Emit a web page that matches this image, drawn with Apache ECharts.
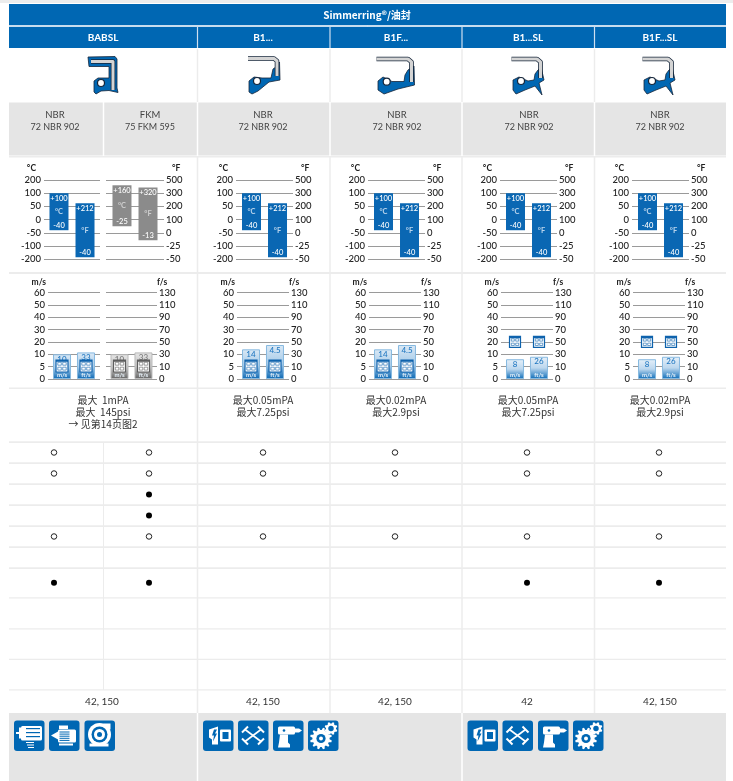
<!DOCTYPE html>
<html><head><meta charset="utf-8">
<style>html,body{margin:0;padding:0;background:#fff}#c{width:733px;height:781px}</style>
<script src="https://cdn.jsdelivr.net/npm/echarts@6/dist/echarts.min.js"></script>
</head><body><div id="c"></div>
<script>
// ---------- data ----------
const groupTitle = 'Simmerring®/油封';
const profiles = ['BABSL','B1...','B1F...','B1...SL','B1F...SL'];
const materials = ['NBR','FKM','NBR','NBR','NBR','NBR'];
const grades = ['72 NBR 902','75 FKM 595','72 NBR 902','72 NBR 902','72 NBR 902','72 NBR 902'];

const tempCTicks = [-200,-100,-50,0,50,100,200];
const tempFTicks = [-50,-25,0,100,200,300,500];
const tempCHigh = [100,160,100,100,100,100];
const tempCLow  = [-40,-25,-40,-40,-40,-40];
const tempFHigh = [225,385,225,225,225,225];   // bar tops as drawn on the axis
const tempFLow  = [-46,-14,-46,-46,-46,-46];   // bar bottoms as drawn on the axis
const tempFHighText = ['+212','+320','+212','+212','+212','+212'];
const tempFLowText  = ['-40','-13','-40','-40','-40','-40'];

const speedMTicks = [0,5,10,20,30,40,50,60];
const speedFTicks = [0,10,30,50,70,90,110,130];
const speedM = [10,10,14,14,8,8];
const speedF = [33,33,45,45,26,26];
const speedMText = ['10','10','14','14','8','8'];
const speedFText = ['33','33','4.5','4.5','26','26'];
const speedIconAtTwenty = [false,false,false,false,true,true];

const pressure = [
  ['最大  1mPA','最大  145psi','→ 见第14页图2'],
  ['最大0.05mPA','最大7.25psi'],
  ['最大0.02mPA','最大2.9psi'],
  ['最大0.05mPA','最大7.25psi'],
  ['最大0.02mPA','最大2.9psi']
];
const rowCount = 7;
// 'o' hollow, 'x' filled, per row and material column
const markRows = [
  ['o','o','o','o','o','o'],
  ['o','o','o','o','o','o'],
  ['','x','','','',''],
  ['','x','','','',''],
  ['o','o','o','o','o','o'],
  ['','','','','',''],
  ['x','x','','','x','x']
];
const references = ['42, 150','42, 150','42, 150','42','42, 150'];

// ---------- layout & style ----------
const BLUE='#0067b3', PALE='#ececec', GREYBOX='#e5e5e5';
const FONT='Lato, "Noto Sans CJK SC", sans-serif';
const CJK='"Noto Sans CJK SC", Lato, sans-serif';
const tempGrids = [[44,56],[106,58],[236,57],[368,57],[500,57],[632,57]];
const speedGrids = [[48,52],[106,51],[237,52],[369,52],[501,52],[633,52]];
const axisVisible = [[true,false],[false,true],[true,true],[true,true],[true,true],[true,true]];
const colCentres = [54,149,263,395,527,659];
const rowCentres = [0.5,1.5,2.5,3.5,4.5,5.5,6.7];
const profileCentres = [103,263,396,528,660];
const colEdges = [197.5,330,462,594.5];
const rowLines = [442,463,484,505,526,547,568,598,629,659.5,690];

function pos(v,t){
  for(let i=0;i<t.length-1;i++) if(v<=t[i+1]) return i+(v-t[i])/(t[i+1]-t[i]);
  return t.length-1;
}
const grid=[],xAxis=[],yAxis=[],series=[],gfx=[];

// ---------- mini charts ----------
function addChart(g,ticksL,ticksR,nameL,nameR,top,bottom,vis,gapName){
  const gi=grid.length;
  grid.push({left:g[0],width:g[1],top:top,height:bottom-top});
  xAxis.push({gridIndex:gi,type:'category',data:['range'],show:false});
  const n=ticksL.length-1;
  const lab={color:'#222',fontFamily:FONT,fontSize:9.5,fontWeight:500};
  yAxis.push({gridIndex:gi,type:'value',min:0,max:n,interval:1,position:'left',
    name:vis[0]?nameL:'',nameLocation:'end',nameGap:gapName[0],
    nameTextStyle:{color:'#222',fontFamily:FONT,fontSize:8.5,fontWeight:700,align:'right',padding:[0,gapName[1],0,0]},
    axisLine:{show:false},axisTick:{show:false},
    axisLabel:{show:vis[0],margin:3,formatter:v=>ticksL[v],...lab},
    splitLine:{show:true,lineStyle:{color:'#9a9a9a',width:1}}});
  yAxis.push({gridIndex:gi,type:'value',min:0,max:n,interval:1,position:'right',
    name:vis[1]?nameR:'',nameLocation:'end',nameGap:gapName[0],
    nameTextStyle:{color:'#222',fontFamily:FONT,fontSize:8.5,fontWeight:700,align:'left',padding:[0,0,0,gapName[2]]},
    axisLine:{show:false},axisTick:{show:false},
    axisLabel:{show:vis[1],margin:2,formatter:v=>ticksR[v],...lab},
    splitLine:{show:false}});
  return {x:gi,y:yAxis.length-2};
}
const idx=(a,i)=>({xAxisIndex:a.x,yAxisIndex:a.y});

tempGrids.forEach((g,i)=>{
  const a=addChart(g,tempCTicks,tempFTicks,'°C','°F',180,259.3,axisVisible[i],[7,8,8]);
  const grey=i===1, col=grey?'#8b8b8b':'#0a67b3';
  const cLo=pos(tempCLow[i],tempCTicks),cHi=pos(tempCHigh[i],tempCTicks);
  const fLo=pos(tempFLow[i],tempFTicks),fHi=pos(tempFHigh[i],tempFTicks);
  const bar={type:'bar',barWidth:19,barGap:'37%',silent:true,...idx(a)};
  const solid={color:col,borderColor:grey?'#c9c9c9':'#7fb2dc',borderWidth:0};
  series.push({...bar,stack:'c'+i,data:[cLo],itemStyle:{color:'transparent'}});
  series.push({...bar,stack:'c'+i,data:[cHi-cLo],itemStyle:solid});
  series.push({...bar,stack:'f'+i,data:[fLo],itemStyle:{color:'transparent'}});
  series.push({...bar,stack:'f'+i,data:[fHi-fLo],itemStyle:solid});
  const marks=[[cHi,cLo,'+'+tempCHigh[i],'°C',String(tempCLow[i]),-13],
               [fHi,fLo,tempFHighText[i],'°F',tempFLowText[i],13]];
  series.push({type:'custom',...idx(a),silent:true,z:5,data:marks.map((m,k)=>[k,m[0],m[1]]),
    renderItem(p,api){
      const m=marks[p.dataIndex];
      const cx=api.coord([0,m[0]])[0]+m[5];
      const top=api.coord([0,m[0]])[1],bot=api.coord([0,m[1]])[1];
      const t=(y,s,f,w)=>({type:'text',style:{x:cx,y:y,text:s,fill:f,align:'center',verticalAlign:'middle',font:`${w} 7.5px ${FONT}`}});
      return {type:'group',children:[
        t(top+5,m[2],'#fff',500),
        t((top+bot)/2,m[3],grey?'#cfcfcf':'#b9d4ec',700),
        t(bot-5,m[4],'#fff',500)]};
    }});
});

function gridIcon(cx,cy,grey,s){
  const c=grey?'#5e5e5e':'#0f63ad';
  const ch=[{type:'rect',shape:{x:cx-s/2,y:cy-s/2,width:s,height:s},style:{fill:'#fff',stroke:c,lineWidth:1.2}}];
  const q=(s-5)/2;
  [[-1,-1],[1,-1],[-1,1],[1,1]].forEach(d=>{
    ch.push({type:'rect',shape:{x:cx+(d[0]<0?-q-0.7:0.7),y:cy+(d[1]<0?-q-0.2:1.2),width:q,height:q-0.6},
      style:{fill:'#fff',stroke:c,lineWidth:0.6}});
  });
  ch.push({type:'rect',shape:{x:cx-s/2,y:cy-s/2,width:s,height:1.8},style:{fill:c}});
  return ch;
}
speedGrids.forEach((g,i)=>{
  const a=addChart(g,speedMTicks,speedFTicks,'m/s','f/s',292.5,379,axisVisible[i],[6,2,0]);
  const grey=i===1;
  const grad=i>=4
    ?[[0,'#e6f0f9'],[0.5,'#bcd7ee'],[1,'#0d6cb8']]
    :[[0,'#dbe9f5'],[0.55,'#a6cbe9'],[1,'#0a67b3']];
  const ggrad=[[0,'#e6e6e6'],[0.55,'#c4c4c4'],[1,'#636363']];
  const style={color:{type:'linear',x:0,y:0,x2:0,y2:1,colorStops:(grey?ggrad:grad).map(s=>({offset:s[0],color:s[1]}))},
    borderColor:grey?'#b9b9b9':'#86b9e0',borderWidth:1};
  const mv=pos(speedM[i],speedMTicks),fv=pos(speedF[i],speedFTicks);
  const bar={type:'bar',barWidth:18,barGap:'33%',silent:true,itemStyle:style,...idx(a)};
  series.push({...bar,data:[mv]},{...bar,data:[fv]});
  const marks=[[mv,speedMText[i],'m/s',-12],[fv,speedFText[i],'ft/s',12]];
  series.push({type:'custom',...idx(a),silent:true,z:5,data:marks.map((m,k)=>[k,m[0]]),
    renderItem(p,api){
      const m=marks[p.dataIndex];
      const c=api.coord([0,m[0]]),base=api.coord([0,0])[1];
      const cx=c[0]+m[3];
      const t=(y,s,f,w,z)=>({type:'text',style:{x:cx,y:y,text:s,fill:f,align:'center',verticalAlign:'middle',font:`${w} ${z}px ${FONT}`}});
      const iy=speedIconAtTwenty[i]?api.coord([0,3])[1]:base-13;
      return {type:'group',children:[
        t(c[1]+5,m[1],grey?'#777':'#1e76c0',500,8),
        ...gridIcon(cx,iy,grey,speedIconAtTwenty[i]?11:12),
        t(base-3.8,m[2],'#e8f2fa',700,6)]};
    }});
});

// ---------- marks table: one chart per material column ----------
colCentres.forEach((c,col)=>{
  const gi=grid.length;
  grid.push({left:c-10,width:20,top:442,height:156});
  xAxis.push({gridIndex:gi,type:'category',data:['col'],show:false});
  yAxis.push({gridIndex:gi,type:'value',min:0,max:rowCount+0.43,inverse:true,show:false});
  const pts=k=>markRows.map((r,i)=>r[col]===k?[0,rowCentres[i]]:null).filter(Boolean);
  series.push({type:'scatter',xAxisIndex:gi,yAxisIndex:yAxis.length-1,silent:true,symbolSize:5.5,data:pts('o'),
    itemStyle:{color:'#fff',borderColor:'#222',borderWidth:1,opacity:1}});
  series.push({type:'scatter',xAxisIndex:gi,yAxisIndex:yAxis.length-1,silent:true,symbolSize:6,data:pts('x'),
    itemStyle:{color:'#000',opacity:1}});
});

// ---------- table furniture ----------
const Z=-10;
const rect=(x,y,w,h,fill,r)=>gfx.push({type:'rect',z:Z,silent:true,shape:{x,y,width:w,height:h,r:r||0},style:{fill}});
const line=(x1,y1,x2,y2,c,w)=>gfx.push({type:'line',z:Z,silent:true,shape:{x1,y1,x2,y2},style:{stroke:c,lineWidth:w||1}});
const text=(x,y,s,o)=>gfx.push({type:'text',z:Z+1,silent:true,style:Object.assign({x,y,text:s,fill:'#333',align:'center',verticalAlign:'middle',font:`10px ${FONT}`},o||{})});
const poly=(pts,fill,stroke,w)=>gfx.push({type:'polygon',z:Z+1,silent:true,shape:{points:pts},style:{fill,stroke:stroke||undefined,lineWidth:w||0}});
const pline=(pts,c,w)=>gfx.push({type:'polyline',z:Z+1,silent:true,shape:{points:pts},style:{stroke:c,lineWidth:w,fill:'none',lineJoin:'round'}});
const circ=(cx,cy,r,fill,stroke,w)=>gfx.push({type:'circle',z:Z+1,silent:true,shape:{cx,cy,r},style:{fill,stroke:stroke||undefined,lineWidth:w||0}});

rect(0,0,733,3,PALE);
rect(9,4,717,21,BLUE);
rect(9,27,717,21,BLUE);
line(9,26,726,26,'#8fbbdf',1);
colEdges.forEach(x=>{line(x,27,x,48,'#cfe0f0',1.2);});
rect(9,102.5,717,53,GREYBOX);
rect(9,156,717,1.5,PALE); rect(9,272,717,2,PALE); rect(9,387.5,717,1.5,PALE);
[...colEdges].forEach(x=>{
  line(x,49,x,102,PALE,1.5); line(x,102,x,156,'#fff',1.5);
  line(x,156,x,713,PALE,1.5);
});
line(103.5,102,103.5,156,'#fff',1.5);
line(103.5,442,103.5,690,PALE,1);
rowLines.forEach((y,i)=>rect(9,y-0.8,717,i<7?1.8:1.4,PALE));
rect(9,713,717,68,GREYBOX);
[197.5,462].forEach(x=>line(x,713,x,781,'#fff',1.5));

text(367,15.5,groupTitle,{fill:'#fff',font:`700 10px ${CJK}`});
profiles.forEach((p,i)=>text(profileCentres[i],38,p,{fill:'#fff',font:`700 10px ${FONT}`}));
const matX=[55,150,263,397,529,660];
materials.forEach((m,i)=>{
  text(matX[i],115,m,{font:`400 9.5px ${FONT}`,fill:'#444'});
  text(matX[i],127,grades[i],{font:`400 9px ${FONT}`,fill:'#444'});
});
pressure.forEach((ls,i)=>ls.forEach((s,k)=>text(profileCentres[i],[400.5,412,424][k],s,{font:`400 10px ${CJK}`,fill:'#333'})));
references.forEach((s,i)=>text([102,263,395,527,660][i],701.5,s,{font:`400 10px ${FONT}`,fill:'#333'}));

// ---------- seal profiles ----------
const DK='#16263a';
function metal(pts){ pline(pts,DK,4.6); pline(pts,'#d4d4d4',3); }
// BABSL
poly([[88,57],[115,56.5],[117,59],[117,88],[118,92.5],[109,90.5],[101,91],[96,94],[94,92],[94,81],[98,78],[109,78],[109,66.5],[89,66.5]],BLUE,DK,0.8);
metal([[91,61.5],[113,61.5],[113,90]]);
circ(101,83,3.5,'#fff',DK,1.2);
// B1...
poly([[273,69],[276,67],[279.5,62],[280,80],[269,82],[258,91],[252,94],[249,92],[249,81],[254,77],[262,78],[271,78]],BLUE,DK,0.8);
metal([[248,58.5],[274,58.5],[277,61],[277,76]]);
circ(257,81,3.5,'#fff',DK,1.2);
// B1F...
poly([[405,75],[408,70],[414,66],[414.5,85],[398,89],[384,94],[378,90],[378,81],[383,77],[392,81.5],[404,81.5]],BLUE,DK,0.8);
metal([[376.5,59],[408,59],[411.5,62],[411.5,82]]);
circ(386.7,81.7,3.5,'#fff',DK,1.2);
// B1...SL, B1F...SL
[0,131].forEach(dx=>{
  const s=a=>a.map(p=>[p[0]+dx,p[1]]);
  poly(s([[535,74],[538,70],[541,67],[544,80],[539,83],[542,95],[535,86],[525,90],[516,94],[513,90],[513,80],[519,77],[528,81],[534,80]]),BLUE,DK,0.8);
  metal(s([[511.5,59],[537,59],[540.5,62],[540.5,78]]));
  circ(521+dx,81,3.5,'#fff',DK,1.2);
});

// ---------- application pictograms ----------
function gear(cx,cy,R,n,fill,hole){
  const pts=[];
  for(let i=0;i<n*2;i++){
    const a0=(i-0.3)*Math.PI/n,a1=(i+0.3)*Math.PI/n,r=i%2?R:R*0.78;
    pts.push([cx+r*Math.cos(a0),cy+r*Math.sin(a0)],[cx+r*Math.cos(a1),cy+r*Math.sin(a1)]);
  }
  poly(pts,fill);
  circ(cx,cy,R*0.42,hole);
}
const W='#fff';
const glyphs={
  motorShaft(x,y){ rect(x+7,y+5.5,21,14.5,W,1.5); rect(x+12,y+7.5,14,1.2,BLUE); rect(x+12,y+11.5,14,1.2,BLUE); rect(x+12,y+15.5,14,1.2,BLUE);
    rect(x+2,y+11.5,6,2,W); rect(x+5,y+7,2,11,W);
    [21.5,24,26.5].forEach((d,i)=>rect(x+12+i,y+d,8-i*1,1,W)); },
  motor(x,y){ rect(x+9,y+9,18,13,W,1.5); for(let i=0;i<5;i++) rect(x+10.5,y+11+i*2.1,10,1,BLUE);
    rect(x+10,y+5,9,3.5,W); rect(x+10,y+23,14,2,W); poly([[x+2,y+15],[x+9,y+11],[x+9,y+19]],W); },
  pump(x,y){ circ(x+15,y+14,11.5,W); circ(x+15,y+14,8,BLUE); circ(x+15,y+14,5.5,W); circ(x+15,y+14,2.5,BLUE);
    rect(x+19,y+3,7,6,W); rect(x+5,y+23,19,3,W); },
  gearMotor(x,y){ poly([[x+6,y+9],[x+15,y+6],[x+15,y+24],[x+9,y+24],[x+9,y+19],[x+6,y+17]],W);
    poly([[x+11,y+9],[x+9,y+15],[x+11,y+15],[x+10,y+21],[x+14,y+13],[x+12,y+13],[x+14,y+9]],BLUE);
    rect(x+17,y+9,11,12,W,1); rect(x+19.5,y+11.5,6,7,BLUE); },
  axle(x,y){ line(x+7,y+9,x+23,y+21,W,1.6); line(x+23,y+9,x+7,y+21,W,1.6);
    line(x+4,y+12,x+10,y+6,W,2); line(x+20,y+6,x+26,y+12,W,2); line(x+4,y+18,x+10,y+24,W,2); line(x+20,y+24,x+26,y+18,W,2); },
  drill(x,y){ rect(x+5,y+6,17,8,W,1.5); rect(x+22,y+8,4,4,W); poly([[x+26,y+8],[x+29,y+10],[x+26,y+12]],W);
    poly([[x+7,y+14],[x+15,y+14],[x+15,y+22],[x+17,y+24],[x+17,y+27],[x+5,y+27],[x+6,y+22]],W); rect(x+8,y+24,7,1.2,BLUE); circ(x+11,y+10,1.3,BLUE); },
  gears(x,y){ gear(x+13,y+18,11,12,W,BLUE); circ(x+13,y+18,2,W); gear(x+23,y+8,6.5,8,W,BLUE); }
};
const apps=[[14,'motorShaft'],[49,'motor'],[84.5,'pump'],[203,'gearMotor'],[238,'axle'],[273,'drill'],[308,'gears'],[467.5,'gearMotor'],[502.5,'axle'],[538,'drill'],[573,'gears']];
apps.forEach(a=>{ rect(a[0],720.5,30.5,30.5,BLUE,3); glyphs[a[1]](a[0],720.5); });

const chart=echarts.init(document.getElementById('c'),null,{renderer:'canvas'});
chart.setOption({animation:false,backgroundColor:'#fff',tooltip:{show:false},grid,xAxis,yAxis,series,graphic:{elements:gfx}});
</script></body></html>
